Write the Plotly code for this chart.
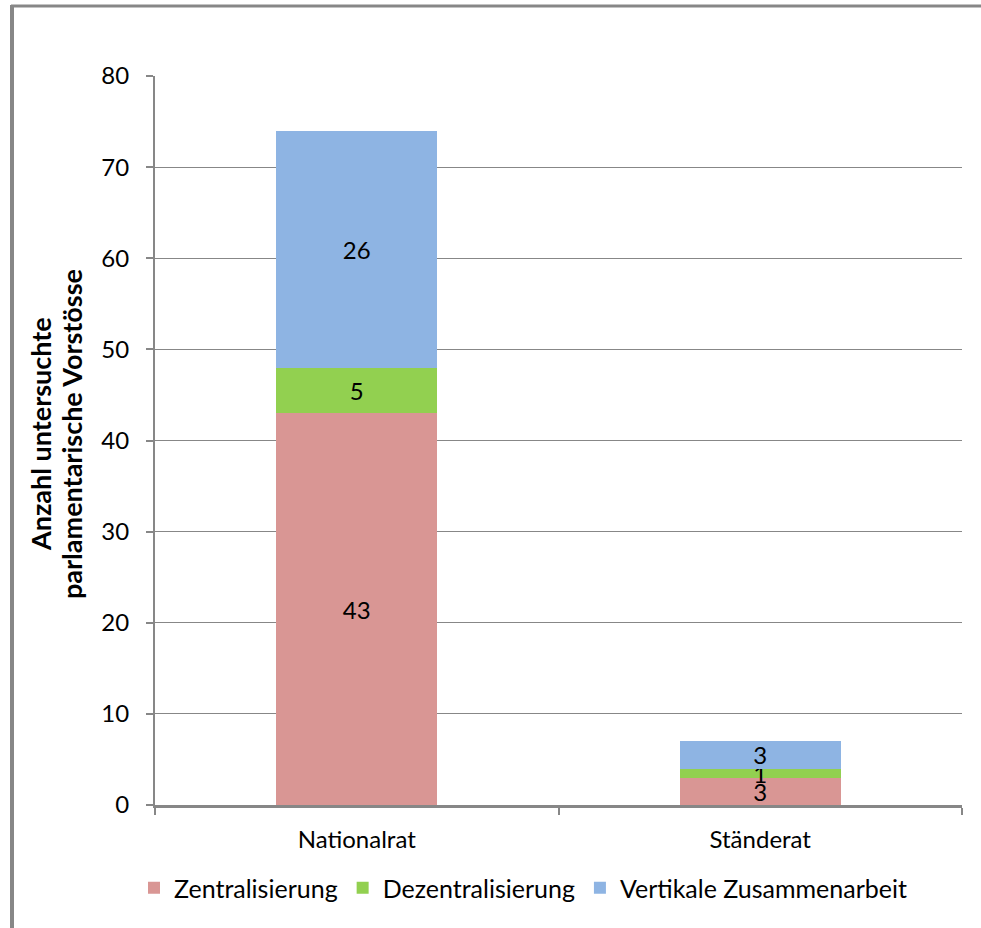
import plotly.graph_objects as go

categories = ["Nationalrat", "Ständerat"]
zentralisierung = [43, 3]
dezentralisierung = [5, 1]
vertikale = [26, 3]
series_names = ["Zentralisierung", "Dezentralisierung", "Vertikale Zusammenarbeit"]
colors = ["#D99694", "#92D050", "#8EB4E3"]
y_ticks = [0, 10, 20, 30, 40, 50, 60, 70, 80]
y_title_lines = ["Anzahl untersuchte", "parlamentarische Vorstösse"]

W, H = 981, 928
L, R, T, B = 155, 19, 76, 123
pw, ph = W - L - R, H - T - B

def px_x(p):
    return (p - L) / pw

def px_y(p):
    return (H - B - p) / ph

FONT = "Lato, 'Open Sans', sans-serif"
FS = 24

fig = go.Figure()
for name, vals, col in zip(series_names, [zentralisierung, dezentralisierung, vertikale], colors):
    fig.add_trace(go.Bar(
        x=categories, y=vals, name=name,
        marker=dict(color=col, line=dict(width=0)),
        text=[str(v) for v in vals], textposition="inside",
        insidetextanchor="middle", textangle=0,
        textfont=dict(color="black", size=FS, family=FONT),
        constraintext="none",
    ))

fig.update_layout(
    barmode="stack", bargap=0.6,
    width=W, height=H,
    margin=dict(l=L, r=R, t=T, b=B),
    paper_bgcolor="white", plot_bgcolor="white",
    font=dict(family=FONT, size=FS, color="black"),
    uniformtext=dict(minsize=FS, mode="show"),
    legend=dict(orientation="h", x=px_x(523), xanchor="center", y=px_y(888), yanchor="middle",
                bgcolor="rgba(0,0,0,0)",
                font=dict(size=25, family=FONT), itemwidth=30, traceorder="normal"),
    showlegend=True,
)
fig.update_yaxes(
    range=[0, 80], tickvals=y_ticks, showgrid=True, gridcolor="#878787", gridwidth=1,
    showline=True, linecolor="#878787", linewidth=2, ticks="outside", ticklen=7,
    tickcolor="#878787", tickwidth=2, zeroline=False, ticklabelstandoff=12,
    tickfont=dict(size=FS, family=FONT),
)
fig.update_xaxes(
    showline=True, linecolor="#878787", linewidth=3, ticks="outside", ticklen=7,
    tickcolor="#878787", tickwidth=2, tickson="boundaries", ticklabelstandoff=11,
    tickfont=dict(size=FS, family=FONT), showgrid=False,
)

# y-axis title as two rotated lines
for line, xp in zip(y_title_lines, [41, 72]):
    fig.add_annotation(text="<b>" + line + "</b>", textangle=-90, showarrow=False,
                       xref="paper", yref="paper", x=px_x(xp), y=px_y(434),
                       xanchor="center", yanchor="middle",
                       font=dict(size=27, family=FONT, color="black"))

# outer frame (top and left edges visible)
fig.add_shape(type="line", xref="paper", yref="paper",
              x0=px_x(11), x1=px_x(W + 5), y0=px_y(6), y1=px_y(6),
              line=dict(color="#878787", width=3))
fig.add_shape(type="line", xref="paper", yref="paper",
              x0=px_x(12), x1=px_x(12), y0=px_y(5), y1=px_y(H + 5),
              line=dict(color="#878787", width=4))

fig.write_html("out.html")
